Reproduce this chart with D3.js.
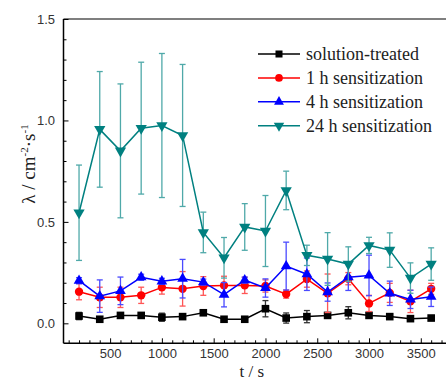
<!DOCTYPE html>
<html>
<head>
<meta charset="utf-8">
<script src="https://cdn.jsdelivr.net/npm/d3@7"></script>
<style>
  body { margin: 0; background: #fff; }
</style>
</head>
<body>
<div id="chart"></div>
<script>
const WIDTH = 446;
const HEIGHT = 380;
const SANS = "'Liberation Sans', Arial, sans-serif";
const SERIF = "'Liberation Serif', 'DejaVu Serif', 'Times New Roman', serif";

// data
const times = [200, 400, 600, 800, 1000, 1200, 1400, 1600, 1800, 2000, 2200, 2400, 2600, 2800, 3000, 3200, 3400, 3600];

const solution    = [0.036, 0.02, 0.039, 0.039, 0.03, 0.033, 0.052, 0.02, 0.02, 0.072, 0.026, 0.033, 0.039, 0.052, 0.039, 0.033, 0.023, 0.026];
const solutionErr = [0.018, 0.01, 0.01, 0.01, 0.02, 0.01, 0.01, 0.01, 0.01, 0.04, 0.025, 0.03, 0.01, 0.03, 0.01, 0.01, 0.01, 0.01];

const h1    = [0.156, 0.128, 0.128, 0.138, 0.177, 0.17, 0.184, 0.187, 0.187, 0.184, 0.144, 0.218, 0.148, 0.22, 0.098, 0.15, 0.108, 0.17];
const h1Err = [0.04, 0.05, 0.05, 0.04, 0.033, 0.085, 0.046, 0.045, 0.04, 0.03, 0.02, 0.04, 0.095, 0.03, 0.04, 0.047, 0.055, 0.027];

const h4    = [0.21, 0.134, 0.16, 0.227, 0.207, 0.22, 0.203, 0.141, 0.213, 0.174, 0.282, 0.242, 0.154, 0.227, 0.236, 0.148, 0.118, 0.131];
const h4Err = [0.015, 0.08, 0.068, 0.015, 0.015, 0.095, 0.015, 0.06, 0.015, 0.045, 0.118, 0.08, 0.045, 0.065, 0.1, 0.06, 0.045, 0.048];

const h24    = [0.545, 0.956, 0.85, 0.962, 0.975, 0.926, 0.448, 0.323, 0.475, 0.455, 0.655, 0.335, 0.317, 0.292, 0.384, 0.361, 0.223, 0.292];
const h24Err = [0.235, 0.285, 0.33, 0.325, 0.355, 0.35, 0.1, 0.1, 0.115, 0.175, 0.095, 0.05, 0.13, 0.085, 0.04, 0.085, 0.075, 0.08];

const seriesNames = ["solution-treated", "1 h sensitization", "4 h sensitization", "24 h sensitization"];

const series = [
    { name: seriesNames[0], values: solution, errs: solutionErr, color: "#000000", errColor: "#333333", symbol: d3.symbolSquare, size: 58, rot: 0 },
    { name: seriesNames[1], values: h1, errs: h1Err, color: "#ff0000", errColor: "#ff5555", symbol: d3.symbolCircle, size: 55, rot: 0 },
    { name: seriesNames[2], values: h4, errs: h4Err, color: "#0000ff", errColor: "#4a4aff", symbol: d3.symbolTriangle, size: 50, rot: 0 },
    { name: seriesNames[3], values: h24, errs: h24Err, color: "#008080", errColor: "#4fa9a9", symbol: d3.symbolTriangle, size: 55, rot: 180 }
];

const margin = { left: 63.5, right: -0.7, top: 19, bottom: 36.7 };

const svg = d3.select("#chart")
    .append("svg")
        .attr("width", WIDTH)
        .attr("height", HEIGHT);

const x = d3.scaleLinear()
    .domain([50, 3750])
    .range([margin.left, WIDTH - margin.right]);

const y = d3.scaleLinear()
    .domain([-0.0985, 1.5])
    .range([HEIGHT - margin.bottom, margin.top]);

// top border
svg.append("line")
    .attr("x1", margin.left).attr("x2", WIDTH)
    .attr("y1", y(1.5)).attr("y2", y(1.5))
    .attr("stroke", "#555").attr("stroke-width", 1.5);

// x axis, ticks pointing inwards
const xMinor = d3.range(100, 3750, 100).filter(v => v % 500 !== 0);
const xAxisG = svg.append("g").attr("transform", `translate(0,${y.range()[0]})`);
xAxisG.append("g")
    .call(d3.axisBottom(x).tickValues(xMinor).tickSize(-3).tickFormat(""))
    .call(g => g.select(".domain").remove());
xAxisG.append("g")
    .call(d3.axisBottom(x).tickValues(d3.range(500, 3750, 500)).tickSize(-5).tickPadding(5).tickFormat(d3.format("d")))
    .call(g => g.select(".domain").remove())
    .call(g => g.selectAll("text").attr("font-family", SANS).attr("font-size", 13).attr("fill", "#333"));
xAxisG.append("line")
    .attr("x1", margin.left).attr("x2", WIDTH)
    .attr("stroke", "#000").attr("stroke-width", 1.5);

// y axis
const yMinor = d3.range(0, 1.51, 0.1).map(v => +v.toFixed(1)).filter(v => Math.round(v * 10) % 5 !== 0);
const yAxisG = svg.append("g").attr("transform", `translate(${margin.left},0)`);
yAxisG.append("g")
    .call(d3.axisLeft(y).tickValues(yMinor).tickSize(-3).tickFormat(""))
    .call(g => g.select(".domain").remove());
yAxisG.append("g")
    .call(d3.axisLeft(y).tickValues([0, 0.5, 1.0, 1.5]).tickSize(-5).tickPadding(8.5).tickFormat(d3.format(".1f")))
    .call(g => g.select(".domain").remove())
    .call(g => g.selectAll("text").attr("font-family", SANS).attr("font-size", 13).attr("fill", "#333"));
yAxisG.append("line")
    .attr("y1", y.range()[0]).attr("y2", y.range()[1])
    .attr("stroke", "#000").attr("stroke-width", 1.5);

// axis titles
svg.append("text")
    .attr("x", (margin.left + WIDTH) / 2 - 3)
    .attr("y", 377)
    .attr("text-anchor", "middle")
    .attr("font-family", SERIF)
    .attr("font-size", 17)
    .attr("fill", "#222")
    .text("t / s");

const ylab = svg.append("text")
    .attr("transform", "translate(35,164) rotate(-90)")
    .attr("text-anchor", "middle")
    .attr("font-family", SERIF)
    .attr("font-size", 19)
    .attr("fill", "#222");
ylab.append("tspan").text("λ / cm");
ylab.append("tspan").attr("dy", -7).attr("font-size", 11).text("-2");
ylab.append("tspan").attr("dy", 7).text("·s");
ylab.append("tspan").attr("dy", -7).attr("font-size", 11).text("-1");

// series
const line = d3.line()
    .x((d, i) => x(times[i]))
    .y(d => y(d));

series.forEach(s => {
    const g = svg.append("g");

    const bars = g.selectAll("g.err")
        .data(s.values)
        .enter()
        .append("g")
        .attr("class", "err")
        .attr("stroke", s.errColor)
        .attr("stroke-width", 1.3);
    bars.append("line")
        .attr("x1", (d, i) => x(times[i])).attr("x2", (d, i) => x(times[i]))
        .attr("y1", (d, i) => y(d - s.errs[i])).attr("y2", (d, i) => y(d + s.errs[i]));
    bars.append("line")
        .attr("x1", (d, i) => x(times[i]) - 3).attr("x2", (d, i) => x(times[i]) + 3)
        .attr("y1", (d, i) => y(d + s.errs[i])).attr("y2", (d, i) => y(d + s.errs[i]));
    bars.append("line")
        .attr("x1", (d, i) => x(times[i]) - 3).attr("x2", (d, i) => x(times[i]) + 3)
        .attr("y1", (d, i) => y(d - s.errs[i])).attr("y2", (d, i) => y(d - s.errs[i]));

    g.append("path")
        .datum(s.values)
        .attr("d", line)
        .attr("fill", "none")
        .attr("stroke", s.color)
        .attr("stroke-width", 1.5);

    g.selectAll("path.marker")
        .data(s.values)
        .enter()
        .append("path")
        .attr("class", "marker")
        .attr("d", d3.symbol().type(s.symbol).size(s.size)())
        .attr("transform", (d, i) => `translate(${x(times[i])},${y(d)}) rotate(${s.rot})`)
        .attr("fill", s.color);
});

// legend
const legend = svg.append("g").attr("transform", "translate(258,54)");
const rows = legend.selectAll("g")
    .data(series)
    .enter()
    .append("g")
    .attr("transform", (d, i) => `translate(0,${i * 23.9})`);
rows.append("line")
    .attr("x1", 0).attr("x2", 42)
    .attr("stroke", d => d.color)
    .attr("stroke-width", 1.5);
rows.append("path")
    .attr("d", d => d3.symbol().type(d.symbol).size(d.size * 0.85)())
    .attr("transform", d => `translate(21,0) rotate(${d.rot})`)
    .attr("fill", d => d.color);
rows.append("text")
    .attr("x", 48)
    .attr("dy", "0.33em")
    .attr("font-family", SERIF)
    .attr("font-size", 18)
    .attr("fill", "#222")
    .text(d => d.name);
</script>
</body>
</html>
